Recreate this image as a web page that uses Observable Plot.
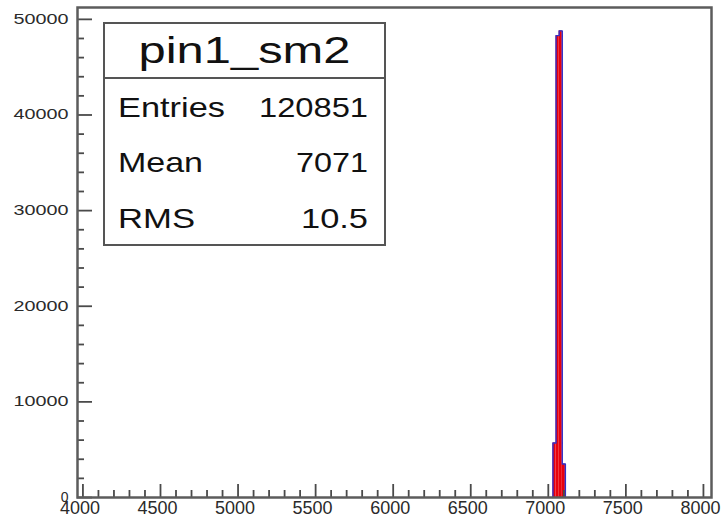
<!DOCTYPE html>
<html>
<head>
<meta charset="utf-8">
<script src="https://cdn.jsdelivr.net/npm/d3@7"></script>
<script src="https://cdn.jsdelivr.net/npm/@observablehq/plot@0.6"></script>
<style>
  html, body { margin: 0; padding: 0; background: #fff; }
  #chart { position: relative; width: 721px; height: 519px; }
</style>
</head>
<body>
<div id="chart"></div>
<script>
// ---- data ----
const histTitle = "pin1_sm2";
const binStarts = [7030, 7050, 7070, 7090];
const binWidth = 20;
const counts = [5700, 48300, 48800, 3500];
const statLabels = ["Entries", "Mean", "RMS"];
const statValues = ["120851", "7071", "10.5"];
const xMajorTicks = [4000, 4500, 5000, 5500, 6000, 6500, 7000, 7500, 8000];
const yMajorTicks = [0, 10000, 20000, 30000, 40000, 50000];

// ---- derived tables ----
const bins = binStarts.map((s, i) => ({x1: s, x2: s + binWidth, count: counts[i]}));
const outline = [{x: binStarts[0], y: 0}]
  .concat(binStarts.map((s, i) => ({x: s, y: counts[i]})))
  .concat([{x: binStarts[binStarts.length - 1] + binWidth, y: 0}]);
const xMinorTicks = d3.range(4000, 8001, 100).filter(v => !xMajorTicks.includes(v));
const yMinorTicks = d3.range(0, 50001, 2000).filter(v => !yMajorTicks.includes(v));

const W = 721, H = 519;
const mL = 77, mR = 10, mT = 7, mB = 22;
const plotW = W - mL - mR, plotH = H - mT - mB;
const xDomain = [3965, 8052], yDomain = [0, 51240];
const axisColor = "#4a4a4a";
// tick lengths in pixels, expressed in data units of the other axis
const yPerPx = (yDomain[1] - yDomain[0]) / plotH;
const xPerPx = (xDomain[1] - xDomain[0]) / plotW;

const chart = Plot.plot({
  width: W,
  height: H,
  marginLeft: mL,
  marginRight: mR,
  marginTop: mT,
  marginBottom: mB,
  style: {fontFamily: "'Liberation Sans', Arial, sans-serif", background: "#fff", color: "#333"},
  x: {domain: xDomain},
  y: {domain: yDomain},
  marks: [
    Plot.rectY(bins, {x1: "x1", x2: "x2", y: "count", fill: "#e8000c"}),
    Plot.line(outline, {x: "x", y: "y", curve: "step-after", stroke: "#3030c8", strokeWidth: 1.4}),
    // x ticks (pointing up from the bottom axis)
    Plot.ruleX(xMajorTicks, {x: d => d, y1: yDomain[0], y2: yDomain[0] + 13 * yPerPx, stroke: axisColor, strokeWidth: 1.8}),
    Plot.ruleX(xMinorTicks, {x: d => d, y1: yDomain[0], y2: yDomain[0] + 7 * yPerPx, stroke: axisColor, strokeWidth: 1.8}),
    // y ticks (pointing right from the left axis)
    Plot.ruleY(yMajorTicks, {y: d => d, x1: xDomain[0], x2: xDomain[0] + 15 * xPerPx, stroke: axisColor, strokeWidth: 1.8}),
    Plot.ruleY(yMinorTicks, {y: d => d, x1: xDomain[0], x2: xDomain[0] + 7 * xPerPx, stroke: axisColor, strokeWidth: 1.8}),
    Plot.axisX({ticks: xMajorTicks, tickSize: 0, tickPadding: 4, tickFormat: d => String(d), fontSize: 17.5, dx: -3, fill: "#2a2a2a", label: null}),
    Plot.axisY({ticks: yMajorTicks, tickSize: 0, tickPadding: 9, tickFormat: d => String(d), fontSize: 14, fill: "#2a2a2a", label: null}),
    Plot.frame({stroke: "#5c5c5c", strokeWidth: 2.5})
  ]
});

document.getElementById("chart").appendChild(chart);

const svg = d3.select(chart);
// match the widths of the tick labels seen in the reference
svg.selectAll('g[aria-label="y-axis tick label"] text').each(function() {
  const t = this.textContent;
  if (t.length > 1) d3.select(this).attr("textLength", 11 * t.length).attr("lengthAdjust", "spacingAndGlyphs");
});
svg.selectAll('g[aria-label="x-axis tick label"] text').each(function() {
  const t = this.textContent;
  d3.select(this).attr("textLength", 10 * t.length).attr("lengthAdjust", "spacingAndGlyphs");
});

// ---- statistics box (ROOT style) ----
const box = svg.append("g").attr("class", "stats");
const bx0 = 104, bx1 = 385, by0 = 23, by1 = 245, bsep = 78;
box.append("rect").attr("x", bx0).attr("y", by0).attr("width", bx1 - bx0).attr("height", by1 - by0)
  .attr("fill", "#fff").attr("stroke", "#555").attr("stroke-width", 2);
box.append("line").attr("x1", bx0).attr("x2", bx1).attr("y1", bsep).attr("y2", bsep)
  .attr("stroke", "#555").attr("stroke-width", 2);
box.append("text").attr("x", (bx0 + bx1) / 2).attr("y", 63).attr("text-anchor", "middle")
  .attr("font-size", 37).attr("fill", "#111").attr("textLength", 212).attr("lengthAdjust", "spacingAndGlyphs")
  .text(histTitle);
const rowBase = [117, 172, 228];
const labelW = [107, 85, 77];
const valueW = [109, 72, 67];
statLabels.forEach((lab, i) => {
  box.append("text").attr("x", 118).attr("y", rowBase[i]).attr("font-size", 28).attr("fill", "#111")
    .attr("text-anchor", "start")
    .attr("textLength", labelW[i]).attr("lengthAdjust", "spacingAndGlyphs").text(lab);
  box.append("text").attr("x", 368).attr("y", rowBase[i]).attr("font-size", 28).attr("fill", "#111")
    .attr("text-anchor", "end").attr("textLength", valueW[i]).attr("lengthAdjust", "spacingAndGlyphs").text(statValues[i]);
});
</script>
</body>
</html>
